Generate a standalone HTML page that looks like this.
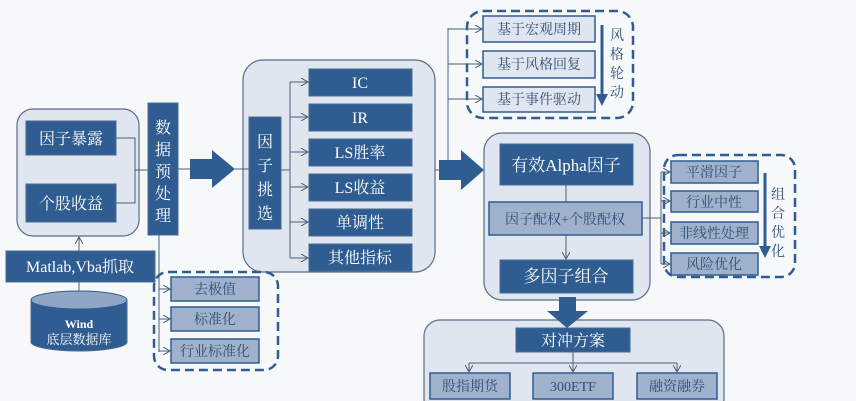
<!DOCTYPE html>
<html><head><meta charset="utf-8"><style>
html,body{margin:0;padding:0;background:#f7f8fa;}
svg{display:block;font-family:"Liberation Serif","Noto Serif CJK SC",serif;}
</style></head><body>
<svg width="856" height="401" viewBox="0 0 856 401" xmlns="http://www.w3.org/2000/svg">
<defs>
<marker id="ah" markerWidth="8" markerHeight="8" refX="7" refY="4" orient="auto" markerUnits="userSpaceOnUse">
<path d="M0,0 L7,4 L0,8" fill="none" stroke="#4a5f7a" stroke-width="1"/></marker>
<marker id="ab" markerWidth="12" markerHeight="12" refX="6" refY="6" orient="auto" markerUnits="userSpaceOnUse">
<path d="M0,0 L12,6 L0,12 Z" fill="#2f5d92"/></marker>
</defs>
<rect width="856" height="401" fill="#f7f8fa"/>
<g fill="#e0e6ef" stroke="#5a6d86" stroke-width="1.2">
<rect x="17" y="109" width="122" height="127" rx="16"/>
<rect x="243" y="60" width="192" height="212" rx="20"/>
<rect x="484" y="133" width="166" height="167" rx="18"/>
<rect x="424" y="320" width="300" height="95" rx="16"/>
</g>
<g fill="none" stroke="#2f5d92" stroke-width="2.5" stroke-dasharray="9,5">
<rect x="154" y="272" width="124" height="98" rx="14"/>
<rect x="467" y="11" width="166" height="107" rx="16"/>
<rect x="664" y="155" width="131" height="122" rx="14"/>
</g>
<g stroke="#4a5f7a" stroke-width="1" fill="none">
<path d="M116,138 H135 V203 H116 M135,170 H148"/>
<path d="M159,235 V352"/>
<path d="M159,289 H170" marker-end="url(#ah)"/>
<path d="M159,319 H170" marker-end="url(#ah)"/>
<path d="M159,351 H170" marker-end="url(#ah)"/>
<path d="M79,251 V237" marker-end="url(#ah)"/>
<path d="M79,292 V282"/>
<path d="M178,169 H190 M235,169 H249"/>
<path d="M281,170 H290 M290,82 V258"/>
<path d="M290,82 H308" marker-end="url(#ah)"/><path d="M290,117 H308" marker-end="url(#ah)"/>
<path d="M290,152 H308" marker-end="url(#ah)"/><path d="M290,187 H308" marker-end="url(#ah)"/>
<path d="M290,222 H308" marker-end="url(#ah)"/><path d="M290,258 H308" marker-end="url(#ah)"/>
<path d="M448,28 V170 M435,170 H448"/>
<path d="M448,29 H482" marker-end="url(#ah)"/><path d="M448,64 H482" marker-end="url(#ah)"/>
<path d="M448,99 H482" marker-end="url(#ah)"/>
<path d="M566,185 V202 M566,235 V259"/>
<path d="M566,250 V259" marker-end="url(#ah)"/>
<path d="M642,218 H661 M661,172 V264"/>
<path d="M661,172 H670" marker-end="url(#ah)"/><path d="M661,201 H670" marker-end="url(#ah)"/>
<path d="M661,233 H670" marker-end="url(#ah)"/><path d="M661,264 H670" marker-end="url(#ah)"/>
<path d="M573,352 V372 M469,363 H677 M469,363 V372 M677,363 V372"/>
<path d="M469,363 V372" marker-end="url(#ah)"/><path d="M573,363 V372" marker-end="url(#ah)"/><path d="M677,363 V372" marker-end="url(#ah)"/>
</g>
<g stroke="#2f5d92" stroke-width="3" fill="none">
<path d="M602,25 V100" marker-end="url(#ab)"/>
<path d="M765,173 V252" marker-end="url(#ab)"/>
</g>
<g fill="#2f5d92">
<path d="M190,159 H212 V150 L235,169 L212,188 V179 H190 Z"/>
<path d="M439,160 H461 V150 L484,170 L461,190 V180 H439 Z"/>
<path d="M559,297 H576 V311 H588 L567,328 L547,311 H559 Z"/>
</g>
<g fill="#2f5d92" stroke="#4a6a90" stroke-width="1">
<rect x="26" y="121" width="90" height="34"/><rect x="26" y="184" width="90" height="38"/>
<rect x="148" y="103" width="30" height="132"/>
<rect x="6" y="251" width="149" height="31"/>
<rect x="249" y="117" width="32" height="112"/>
<rect x="309" y="69" width="103" height="27"/><rect x="309" y="104" width="103" height="27"/>
<rect x="309" y="139" width="103" height="27"/><rect x="309" y="174" width="103" height="27"/>
<rect x="309" y="209" width="103" height="27"/><rect x="309" y="244" width="103" height="27"/>
<rect x="500" y="144" width="133" height="41"/><rect x="500" y="260" width="133" height="33"/>
<rect x="516" y="328" width="114" height="24"/>
</g>
<g fill="#9fb1cb" stroke="#2f5d92" stroke-width="1.5">
<rect x="171" y="277" width="88" height="24"/><rect x="171" y="307" width="88" height="24"/><rect x="171" y="339" width="88" height="24"/>
<rect x="489" y="202" width="153" height="33"/>
<rect x="671" y="161" width="87" height="22"/><rect x="671" y="191" width="87" height="21"/>
<rect x="671" y="222" width="87" height="22"/><rect x="671" y="253" width="87" height="22"/>
<rect x="430" y="373" width="80" height="26"/><rect x="533" y="373" width="80" height="26"/><rect x="637" y="373" width="80" height="26"/>
</g>
<g fill="#e0e6ef" stroke="#2f5d92" stroke-width="1.5">
<rect x="483" y="16" width="112" height="26"/><rect x="483" y="51" width="112" height="27"/><rect x="483" y="87" width="112" height="25"/>
</g>
<path d="M31,300 V342 A48,9 0 0 0 127,342 V300" fill="#2f5d92" stroke="#4a6a90"/>
<ellipse cx="79" cy="300" rx="48" ry="9" fill="#8fa6c4" stroke="#2f5d92"/>
<g fill="#ffffff" font-size="16" text-anchor="middle">
<text x="71" y="144">因子暴露</text><text x="71" y="209">个股收益</text>
<text x="80" y="272" font-size="16">Matlab,Vba抓取</text>
<text x="79" y="328" font-size="12" font-weight="bold">Wind</text>
<text x="79" y="344" font-size="13">底层数据库</text>
<text x="360" y="88">IC</text><text x="360" y="123">IR</text><text x="360" y="158">LS胜率</text>
<text x="360" y="193">LS收益</text><text x="360" y="228">单调性</text><text x="360" y="263">其他指标</text>
<text x="566" y="171" font-size="17">有效Alpha因子</text>
<text x="566" y="282" font-size="17">多因子组合</text>
<text x="573" y="346">对冲方案</text>
</g>
<g fill="#ffffff" font-size="16" text-anchor="middle">
<text x="163" y="133">数</text><text x="163" y="155">据</text><text x="163" y="177">预</text><text x="163" y="199">处</text><text x="163" y="221">理</text>
<text x="265" y="147">因</text><text x="265" y="171">子</text><text x="265" y="195">挑</text><text x="265" y="219">选</text>
</g>
<g fill="#2f4e78" font-size="14" text-anchor="middle">
<text x="215" y="294">去极值</text><text x="215" y="324">标准化</text><text x="215" y="356">行业标准化</text>
<text x="539" y="34">基于宏观周期</text><text x="539" y="69">基于风格回复</text><text x="539" y="104">基于事件驱动</text>
<text x="565" y="224">因子配权+个股配权</text>
<text x="714" y="177">平滑因子</text><text x="714" y="207">行业中性</text><text x="714" y="238">非线性处理</text><text x="714" y="269">风险优化</text>
<text x="470" y="391">股指期货</text><text x="573" y="391">300ETF</text><text x="677" y="391">融资融券</text>
<text x="617" y="40">风</text><text x="617" y="59">格</text><text x="617" y="78">轮</text><text x="617" y="97">动</text>
<text x="778" y="199">组</text><text x="778" y="218">合</text><text x="778" y="237">优</text><text x="778" y="256">化</text>
</g>
</svg>
</body></html>
